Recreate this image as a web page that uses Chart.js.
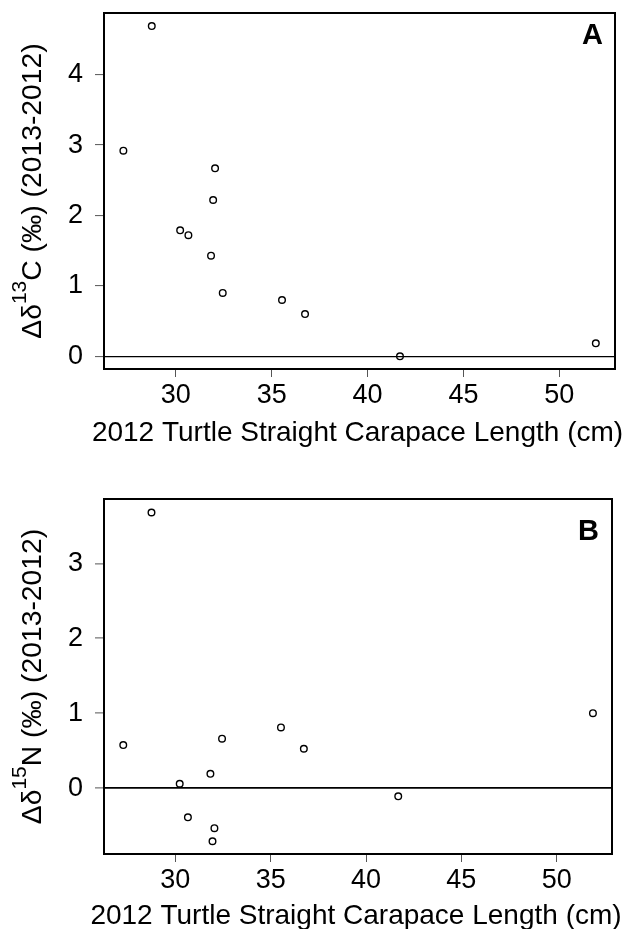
<!DOCTYPE html>
<html>
<head>
<meta charset="utf-8">
<script src="https://cdn.jsdelivr.net/npm/chart.js@4.4.0/dist/chart.umd.min.js"></script>
<style>
    html, body { margin: 0; padding: 0; background: #fff; overflow: hidden; }
    #wrapA { position: absolute; left: 0; top: 0; width: 630px; height: 450px; }
    #wrapB { position: absolute; left: 0; top: 460px; width: 630px; height: 469px; }
</style>
</head>
<body>
<div id="wrapA"><canvas id="chartA" width="630" height="450"></canvas></div>
<div id="wrapB"><canvas id="chartB" width="630" height="469"></canvas></div>
<script>
// 2012 straight carapace length (cm), one value per turtle
const carapaceLength = [27.27, 28.75, 30.23, 30.66, 31.84, 31.95, 32.05, 32.45, 35.54, 36.74, 41.69, 51.9];
// change in d13C and d15N between 2013 and 2012 (per mil)
const deltaC13 = [2.92, 4.69, 1.79, 1.72, 1.43, 2.22, 2.67, 0.90, 0.80, 0.60, 0.00, 0.185];
const deltaN15 = [0.575, 3.68, 0.058, -0.39, 0.19, -0.71, -0.535, 0.66, 0.81, 0.525, -0.11, 1.00];

const xTicks = [30, 35, 40, 45, 50];
const yTicksA = [0, 1, 2, 3, 4];
const yTicksB = [0, 1, 2, 3];

const xTitle = '2012 Turtle Straight Carapace Length (cm)';

const FONT = '"Liberation Sans", Arial, Helvetica, sans-serif';

// draws the frame, the panel letter and both axis titles
// (the chart.js title squeezes text to the axis width, so they are drawn here)
const panelDecor = {
    id: 'panelDecor',
    afterDraw(chart, args, opts) {
        const ctx = chart.ctx;
        const a = chart.chartArea;
        ctx.save();

        // frame
        ctx.strokeStyle = '#000';
        ctx.lineWidth = 2;
        ctx.strokeRect(a.left, a.top, a.right - a.left, a.bottom - a.top);

        // panel letter
        ctx.fillStyle = '#000';
        ctx.font = 'bold 29px ' + FONT;
        ctx.textAlign = 'right';
        ctx.textBaseline = 'alphabetic';
        ctx.fillText(opts.letter, a.right - opts.letterRight, a.top + opts.letterTop + 21);

        // x axis title
        ctx.font = '28px ' + FONT;
        ctx.textAlign = 'center';
        ctx.fillText(xTitle, (a.left + a.right) / 2 - 2, a.bottom + opts.titleBase);

        // y axis title, rotated, with a raised isotope number
        const big = '28.3px ' + FONT;
        const small = '21px ' + FONT;
        ctx.font = big;
        const w1 = ctx.measureText(opts.pre).width;
        const w3 = ctx.measureText(opts.post).width;
        ctx.font = small;
        const w2 = ctx.measureText(opts.sup).width;
        const total = w1 + w2 + w3;

        ctx.translate(41, (a.top + a.bottom) / 2);
        ctx.rotate(-Math.PI / 2);
        ctx.textAlign = 'left';
        let x = -total / 2;
        ctx.font = big;
        ctx.fillText(opts.pre, x, 0);
        x += w1;
        ctx.font = small;
        ctx.fillText(opts.sup, x, -15);
        x += w2;
        ctx.font = big;
        ctx.fillText(opts.post, x, 0);

        ctx.restore();
    }
};

function createChart(chartId, yValues, yTicks, yMin, yMax, zeroWidth, layout, decor) {

    const points = carapaceLength.map((len, i) => ({ x: len, y: yValues[i] }));

    const ctx = document.getElementById(chartId).getContext('2d');
    return new Chart(ctx, {
        type: 'scatter',
        data: {
            datasets: [{
                data: points,
                pointStyle: 'circle',
                pointRadius: 3.3,
                pointBorderWidth: 1.4,
                pointBorderColor: '#000',
                pointBackgroundColor: 'rgba(255,255,255,0)',
                pointHoverRadius: 3.3
            }]
        },
        options: {
            responsive: false,
            animation: false,
            events: [],
            layout: {
                padding: { left: 0, top: layout.top, right: layout.right, bottom: 0 }
            },
            plugins: {
                legend: { display: false },
                tooltip: { enabled: false },
                panelDecor: decor
            },
            scales: {
                x: {
                    type: 'linear',
                    min: 26.26,
                    max: 52.9,
                    afterBuildTicks: axis => { axis.ticks = xTicks.map(v => ({ value: v })); },
                    afterFit: axis => {
                        axis.height = layout.xHeight;
                        axis.paddingLeft = 0;
                        axis.paddingRight = 0;
                    },
                    border: { display: false },
                    grid: {
                        drawOnChartArea: false,
                        drawTicks: true,
                        tickLength: 8,
                        tickColor: '#555',
                        tickWidth: 1
                    },
                    ticks: {
                        color: '#000',
                        padding: 2,
                        maxRotation: 0,
                        font: { family: FONT, size: 27 }
                    }
                },
                y: {
                    type: 'linear',
                    min: yMin,
                    max: yMax,
                    afterBuildTicks: axis => { axis.ticks = yTicks.map(v => ({ value: v })); },
                    afterFit: axis => {
                        axis.width = 104;
                        axis.paddingTop = 0;
                        axis.paddingBottom = 0;
                    },
                    border: { display: false },
                    grid: {
                        drawOnChartArea: true,
                        drawTicks: true,
                        tickLength: 9,
                        tickColor: '#555',
                        tickWidth: 1,
                        color: c => (c.tick && c.tick.value === 0) ? '#000' : 'rgba(0,0,0,0)',
                        lineWidth: zeroWidth
                    },
                    ticks: {
                        color: '#000',
                        padding: 12,
                        font: { family: FONT, size: 27 }
                    }
                }
            }
        },
        plugins: [panelDecor]
    });
}

createChart('chartA', deltaC13, yTicksA, -0.18, 4.876, 1.2,
    { top: 13, right: 15, xHeight: 81 },
    { letter: 'A', letterRight: 12, letterTop: 9.5, titleBase: 71.5,
      pre: '\u0394\u03b4', sup: '13', post: 'C (\u2030) (2013-2012)' });

createChart('chartB', deltaN15, yTicksB, -0.88, 3.86, 1.8,
    { top: 39, right: 18, xHeight: 75 },
    { letter: 'B', letterRight: 13, letterTop: 20, titleBase: 70,
      pre: '\u0394\u03b4', sup: '15', post: 'N (\u2030) (2013-2012)' });
</script>
</body>
</html>
